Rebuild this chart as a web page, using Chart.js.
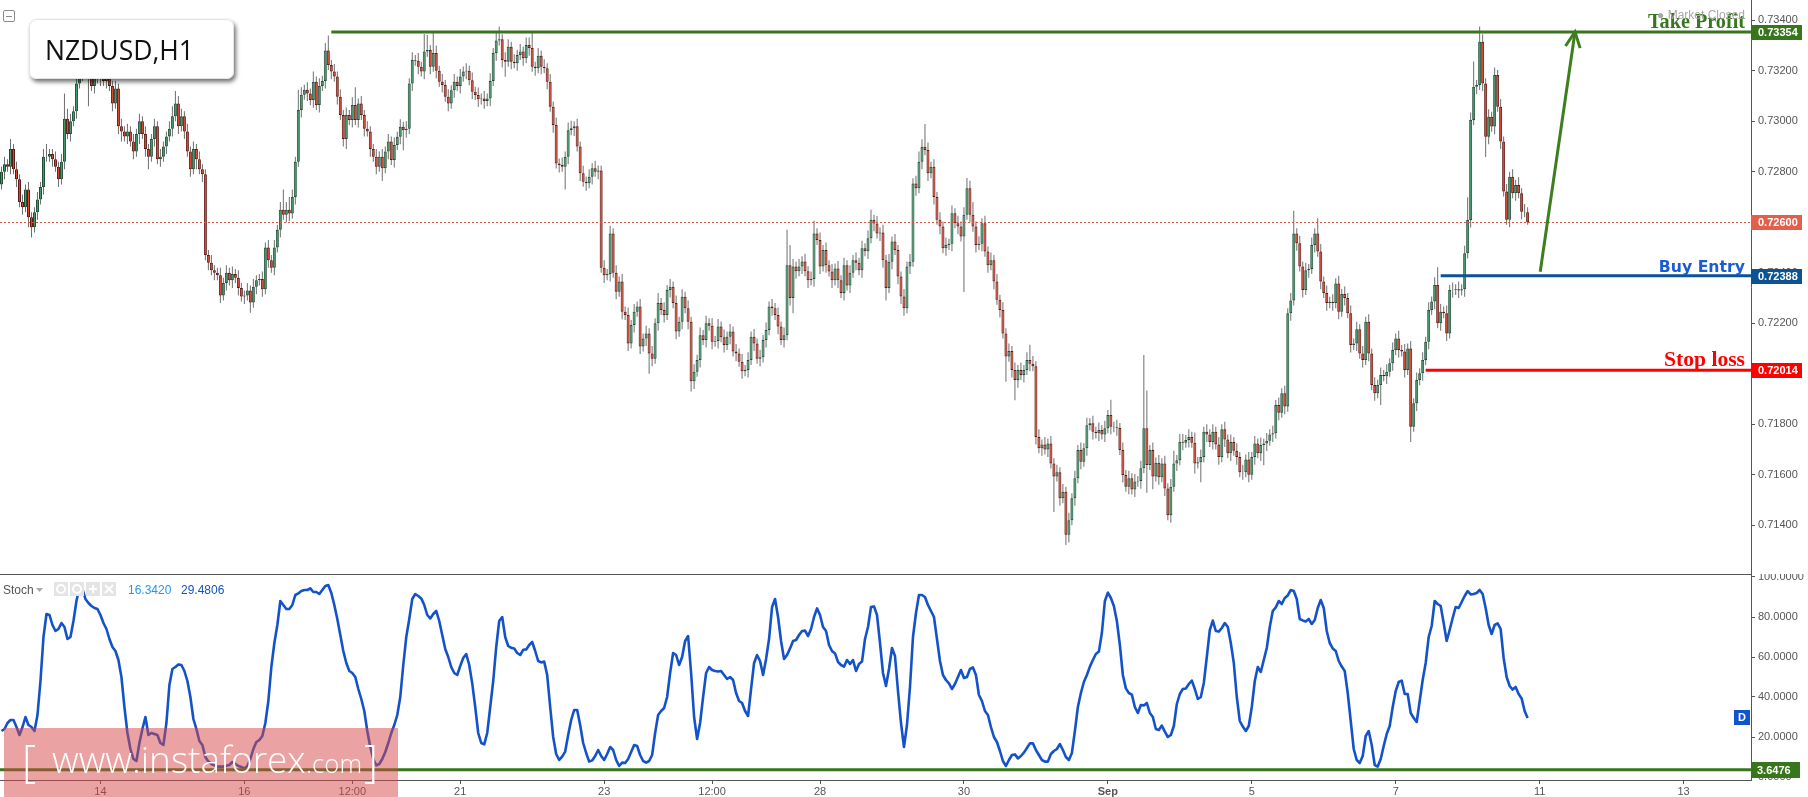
<!DOCTYPE html>
<html>
<head>
<meta charset="utf-8">
<title>NZDUSD,H1</title>
<script src="https://cdn.jsdelivr.net/npm/chart.js@4.4.1/dist/chart.umd.min.js"></script>
<style>
  html, body { margin: 0; padding: 0; background: #fff; }
  body { width: 1808px; height: 797px; position: relative; overflow: hidden; }
  #priceBox { position: absolute; left: 0; top: 0; width: 1808px; height: 574px; }
  #stochBox { position: absolute; left: 0; top: 574px; width: 1808px; height: 223px; }
</style>
</head>
<body>
<div id="priceBox"><canvas id="priceChart"></canvas></div>
<div id="stochBox"><canvas id="stochChart"></canvas></div>
<script>
// NZDUSD hourly closes, in pips above 0.71000 (one value per H1 bar)
const firstOpen = 175;
const closes = [
  180, 183, 182, 189, 181, 177, 168, 166, 173, 162,
  158, 164, 169, 174, 186, 186, 187, 185, 182, 177,
  184, 201, 195, 200, 204, 215, 219, 222, 221, 218,
  214, 218, 217, 220, 216, 218, 214, 207, 213, 198,
  196, 194, 196, 192, 188, 195, 200, 195, 189, 186,
  193, 198, 185, 186, 190, 194, 197, 202, 207, 198,
  202, 196, 188, 181, 189, 185, 181, 179, 147, 144,
  141, 140, 139, 131, 136, 140, 137, 139.5, 138, 134,
  130.6, 131, 133, 128.2, 134.5, 137, 137.5, 133.5, 150, 145,
  142, 150, 157, 165, 163, 165, 163.5, 170, 184, 204.5,
  210.5, 212.5, 211, 208.4, 215.7, 206.5, 214, 216, 228, 222.3,
  219.7, 217.7, 209.7, 202.5, 193, 202.5, 200.5, 206.5, 200.5, 207,
  202.5, 197, 196, 189, 186, 182, 186, 181.4, 188, 192,
  184.7, 190.6, 193.9, 197.8, 196.5, 197, 215, 224.3, 224, 221.6,
  219.7, 227.6, 228.2, 221.6, 227, 220, 215.7, 214.4, 209.7, 207,
  212.3, 215.7, 214, 217.7, 219.7, 220, 216.3, 211.7, 210.4, 208.7,
  209, 208, 209, 216, 227, 232, 232.5, 224.3, 223.6, 229.5,
  223.6, 223, 226.3, 227.6, 225, 230.2, 229, 221.6, 221, 226,
  221.6, 221, 215.7, 205.8, 198.5, 183.3, 182.7, 182, 186, 196.5,
  197.2, 198, 190, 179.4, 176.1, 175.5, 178, 181.4, 180, 180.5,
  142, 139, 139.5, 155.6, 140, 132.5, 136.5, 124.6, 123.3, 112,
  119.3, 124.6, 126.6, 110.8, 114, 116, 108, 106, 120, 128,
  125.3, 123.3, 133.2, 134.5, 128, 116.7, 120.6, 130.5, 126, 120.6,
  97, 100.8, 105.5, 115.3, 113.4, 120, 119, 112.7, 113, 118.7,
  114.5, 111.4, 114.7, 116.7, 108.8, 108, 104.8, 101, 101.5, 105.5,
  114.7, 112, 106, 106.5, 113.4, 117.3, 126.6, 126, 123.3, 118.7,
  113.4, 115.3, 143, 130, 142.5, 140.6, 142.5, 144.5, 140.6, 137,
  137.5, 155.6, 153, 142.5, 149, 143, 140.5, 137, 141.7, 137,
  132, 143, 135, 140, 145, 144, 141, 149.7, 148.5, 153.7,
  161, 159.5, 155.6, 156, 145, 134, 144.4, 152.4, 149, 138.5,
  130.6, 126, 142.5, 144.4, 175.4, 173.5, 184, 189.9, 188.6, 179.4,
  182, 170, 161, 158.3, 149.7, 151, 151.5, 163.6, 159.6, 158.3,
  154.4, 163, 173.5, 163, 158.3, 151, 151.5, 159.6, 148.4, 143,
  145, 136.5, 129.3, 125.3, 116, 106.8, 109, 101.5, 97.5, 101.5,
  99.5, 101.5, 105.5, 104, 103, 75, 70.5, 72, 70, 72.4,
  64.5, 59.3, 61, 50.7, 53.3, 36.2, 42, 50.7, 58.6, 69.8,
  65.2, 70.5, 79.6, 80.4, 77, 76.4, 77.7, 76, 78.4, 83.7,
  79, 78.8, 78.5, 69.8, 59.9, 55.3, 58.6, 54.2, 57.3, 57.5,
  62.6, 78.4, 63.9, 69.8, 59.3, 64.8, 59, 64.5, 54.6, 44,
  55.3, 64.5, 65.8, 73.1, 72.7, 73.8, 75, 72.7, 64.5, 65,
  67, 77, 76, 73, 77, 72, 67, 78, 74, 68.5,
  73, 69.5, 67, 61, 61, 66, 60, 67, 72.4, 68.5,
  71.8, 72.4, 73.5, 76, 76.4, 87.6, 84.6, 92.3, 87, 124,
  129, 155.6, 151.7, 142.5, 133.2, 141, 141.5, 151, 155.6, 148.4,
  136.5, 132, 128, 128.5, 128, 135.8, 124.6, 131.6, 130, 124,
  111.4, 112, 117.6, 108, 105.5, 120.6, 108, 95.6, 92.3, 95.6,
  99.5, 99, 100.8, 104.2, 109.4, 114, 109.4, 108.8, 101.5, 110,
  79, 88.3, 97.5, 100.2, 105.5, 112.7, 125.3, 128.6, 135.2, 120,
  124.6, 124, 116, 133.2, 133.2, 133.5, 133, 133.5, 147.7, 160.9,
  200.5, 213.7, 214.4, 231.5, 215, 193.9, 201.8, 197.9, 218.3, 205.8,
  192, 172.2, 161, 178, 171.5, 174.8, 171.5, 164.2, 164, 160
];
// wick length above / below the body, in pips
const wickUp = [
  2, 3, 2, 4, 2, 3, 2, 3, 2, 3,
  2, 2, 3, 2, 3, 5, 2, 2, 3, 2,
  3, 10, 4, 3, 2, 3, 2, 3, 2, 3,
  2, 3, 2, 2, 3, 2, 3, 2, 3, 2,
  3, 2, 3, 2, 3, 2, 3, 2, 3, 2,
  2, 3, 2, 3, 2, 2, 3, 4, 5, 3,
  3, 2, 3, 2, 3, 2, 3, 2, 2, 2,
  3, 2, 2, 3, 2, 3, 2, 3, 2, 3,
  2, 2, 3, 2, 3, 2, 2, 3, 2, 3,
  2, 3, 2, 3, 8, 3, 5, 3, 2, 8,
  3, 2, 3, 2, 4, 2, 3, 2, 3, 6,
  2, 3, 2, 3, 2, 3, 2, 3, 7, 2,
  3, 2, 3, 2, 2, 3, 2, 3, 2, 3,
  2, 3, 2, 3, 2, 3, 2, 3, 2, 3,
  2, 7, 6, 2, 8, 3, 2, 3, 2, 3,
  2, 3, 2, 3, 2, 3, 2, 3, 2, 3,
  2, 3, 2, 3, 2, 3, 5, 2, 3, 3,
  2, 3, 2, 3, 2, 3, 3, 6, 2, 3,
  2, 3, 2, 3, 2, 3, 2, 3, 2, 3,
  3, 2, 3, 2, 3, 2, 3, 2, 3, 2,
  2, 3, 2, 3, 2, 3, 2, 3, 2, 3,
  2, 3, 2, 3, 2, 3, 2, 3, 2, 4,
  2, 3, 2, 3, 2, 3, 2, 3, 2, 3,
  2, 3, 2, 3, 2, 3, 2, 3, 2, 3,
  2, 3, 2, 3, 2, 3, 2, 3, 2, 3,
  2, 3, 2, 3, 2, 3, 2, 3, 2, 3,
  2, 3, 14, 8, 3, 2, 3, 2, 3, 2,
  3, 5, 2, 3, 2, 3, 2, 3, 2, 3,
  2, 3, 2, 3, 2, 3, 2, 3, 2, 3,
  4, 2, 3, 2, 3, 2, 3, 2, 3, 2,
  2, 3, 2, 3, 2, 3, 4, 3, 9, 3,
  2, 3, 2, 3, 2, 3, 2, 3, 2, 3,
  2, 3, 4, 3, 5, 2, 3, 2, 3, 2,
  3, 2, 3, 2, 3, 2, 3, 2, 3, 2,
  3, 2, 3, 6, 3, 2, 3, 2, 3, 2,
  3, 2, 3, 2, 3, 2, 3, 2, 3, 2,
  3, 2, 3, 2, 3, 2, 3, 2, 3, 2,
  6, 2, 3, 2, 3, 2, 3, 2, 3, 2,
  3, 29, 15, 2, 3, 2, 3, 2, 3, 2,
  3, 5, 2, 3, 3, 2, 3, 2, 4, 2,
  3, 2, 3, 2, 3, 2, 3, 2, 3, 2,
  3, 2, 3, 2, 3, 2, 3, 2, 3, 2,
  3, 2, 3, 2, 3, 2, 3, 2, 3, 2,
  3, 9, 2, 3, 2, 3, 2, 3, 2, 6,
  3, 2, 3, 2, 3, 2, 3, 2, 3, 2,
  3, 2, 3, 2, 3, 2, 3, 2, 3, 2,
  3, 2, 3, 2, 3, 2, 3, 2, 3, 2,
  3, 2, 3, 2, 3, 2, 3, 2, 3, 7,
  3, 2, 3, 2, 3, 2, 3, 2, 3, 9,
  3, 10, 2, 6, 3, 2, 3, 2, 3, 2,
  3, 2, 3, 2, 3, 2, 3, 2, 3, 2
];
const wickDown = [
  2, 3, 2, 3, 2, 3, 2, 3, 2, 4,
  4, 2, 3, 2, 3, 2, 2, 3, 2, 3,
  2, 3, 2, 3, 2, 3, 2, 3, 2, 12,
  2, 3, 2, 3, 2, 3, 2, 3, 2, 3,
  4, 2, 3, 2, 3, 2, 4, 2, 3, 5,
  2, 3, 2, 3, 2, 3, 2, 3, 2, 3,
  2, 3, 2, 3, 2, 4, 2, 3, 2, 3,
  2, 3, 2, 3, 2, 3, 2, 3, 2, 3,
  2, 3, 2, 4, 2, 3, 2, 3, 2, 3,
  2, 3, 2, 3, 2, 3, 3, 2, 3, 2,
  3, 2, 3, 2, 3, 2, 3, 2, 3, 2,
  3, 2, 3, 2, 3, 4, 2, 3, 2, 3,
  2, 3, 2, 3, 2, 3, 2, 5, 2, 3,
  2, 3, 2, 3, 8, 3, 2, 3, 2, 3,
  2, 3, 2, 3, 2, 3, 2, 3, 2, 3,
  2, 3, 2, 3, 2, 3, 2, 3, 2, 3,
  2, 3, 2, 3, 2, 3, 2, 3, 6, 2,
  3, 2, 3, 2, 3, 2, 3, 2, 3, 2,
  3, 2, 3, 2, 3, 2, 3, 2, 9, 3,
  2, 3, 2, 3, 2, 3, 2, 3, 2, 3,
  2, 3, 2, 3, 2, 3, 2, 3, 2, 3,
  2, 3, 2, 3, 2, 3, 8, 3, 2, 3,
  2, 3, 2, 3, 2, 3, 2, 3, 2, 3,
  4, 3, 2, 3, 2, 3, 2, 3, 2, 3,
  2, 3, 2, 3, 2, 3, 2, 3, 2, 3,
  2, 3, 2, 3, 2, 3, 2, 3, 2, 3,
  2, 3, 2, 3, 6, 3, 2, 3, 2, 3,
  2, 3, 2, 3, 2, 3, 2, 3, 2, 3,
  2, 3, 2, 3, 2, 3, 2, 3, 2, 3,
  2, 3, 2, 3, 3, 5, 2, 3, 2, 3,
  3, 3, 2, 3, 2, 3, 2, 3, 2, 3,
  2, 3, 2, 3, 2, 3, 2, 3, 2, 3,
  2, 22, 2, 3, 2, 3, 2, 3, 2, 3,
  2, 3, 2, 3, 2, 10, 2, 3, 8, 3,
  2, 3, 2, 3, 2, 3, 2, 3, 2, 3,
  2, 14, 2, 3, 2, 4, 3, 2, 3, 2,
  3, 2, 3, 2, 3, 2, 3, 2, 3, 2,
  3, 2, 3, 2, 3, 2, 3, 2, 3, 2,
  3, 2, 11, 2, 5, 2, 3, 2, 3, 2,
  3, 2, 3, 2, 3, 2, 3, 2, 4, 2,
  8, 2, 3, 2, 3, 2, 3, 2, 3, 2,
  3, 2, 3, 2, 3, 2, 3, 2, 3, 2,
  3, 8, 3, 2, 3, 2, 3, 2, 3, 2,
  3, 2, 3, 2, 3, 2, 3, 2, 3, 2,
  3, 2, 3, 2, 3, 2, 3, 2, 3, 2,
  3, 2, 3, 2, 3, 2, 3, 2, 3, 2,
  8, 2, 3, 2, 3, 2, 3, 2, 3, 2,
  6, 2, 3, 2, 3, 2, 3, 2, 3, 2,
  3, 2, 3, 2, 3, 2, 3, 2, 3, 2,
  3, 2, 3, 2, 3, 8, 3, 2, 3, 2,
  3, 2, 2, 3, 2, 3, 2, 3, 2, 1
];
// Stochastic %D, one value per bar
const stochD = [
  23, 24, 27, 28.5, 28.5, 25, 21, 25, 30, 26,
  25, 23, 31, 48, 70, 81.5, 81, 76, 73, 74,
  77, 75, 69, 70, 78, 88, 95, 94, 89, 87,
  85.5, 84.5, 84, 81, 77, 74, 69, 65, 63, 58.5,
  50, 35, 22, 14, 9, 8, 17, 24, 30, 21,
  22, 21.5, 21, 17, 16, 27, 46, 54, 55, 56.3,
  56, 53, 48, 40, 29, 24, 18, 16, 10, 7.7,
  6.5, 5.8, 5.2, 5.2, 5.2, 5.6, 6, 7.5, 6.5, 5.5,
  5, 4.3, 5.5, 9, 14, 17.5, 18.5, 20.5, 27, 38,
  55, 67, 76, 88, 86, 84, 84, 86, 91, 91.8,
  93, 93.5, 93.5, 94.3, 92.5, 92.5, 91.5, 93.5, 95.5, 96,
  92, 86, 79, 71, 63, 57, 53, 52, 50, 44,
  39, 33, 23, 15, 9, 5.8, 6.5, 9, 12.5, 17,
  22, 26, 31, 40, 56, 70, 79, 89, 91.5, 90.5,
  89.3, 86, 81, 79.3, 81.5, 83, 78, 71, 64, 60,
  55, 52, 51, 55.5, 59.5, 61.5, 56, 46.8, 35, 22,
  17, 16.3, 22, 35, 48, 65, 78, 80, 70, 65.5,
  64.6, 64.3, 62, 61, 63.6, 63.8, 66, 67.5, 63, 58,
  57.3, 57.7, 51, 35, 20, 11.5, 8.5, 10.2, 12.7, 21,
  28.5, 33.5, 33.5, 26, 17, 12, 7.7, 8.3, 10.5, 13.5,
  10.5, 8.5, 11.5, 15, 13.5, 8.5, 5.5, 7.2, 7, 9,
  12.5, 16, 15.5, 11, 8, 7.2, 8, 11, 22, 31,
  33, 34.5, 40, 52, 62, 61, 56, 60, 68, 70.5,
  52, 30, 19, 27, 40, 52, 55, 53.5, 53, 52.7,
  53, 51, 49, 50, 48.5, 42, 38, 37, 33, 30.5,
  44, 57, 61, 58, 51, 59, 69, 85, 89, 80,
  68, 59, 61, 64.3, 68, 68.5, 71, 73, 73.2, 70.5,
  74, 80, 84.3, 81, 75, 73, 66, 63, 61.8, 57.5,
  56, 55.2, 58.5, 56.5, 58.5, 53, 56.5, 57.7, 69, 75,
  85, 85.3, 81, 67, 52, 45.5, 54, 64.5, 60.5, 43,
  27, 15, 26, 45, 70, 82, 91, 91, 90, 86,
  83, 80, 69, 58, 51, 48.5, 46.8, 44, 46.5, 50,
  53.5, 49.5, 50, 54, 54.8, 51, 41, 38, 33, 31,
  25, 20, 17.5, 13, 8, 5.5, 8.5, 11, 11.3, 9.3,
  10.5, 12.2, 14.5, 16.8, 16.8, 13.5, 11, 8.5, 7.7, 7.7,
  11.5, 13, 14, 16.5, 13.5, 10, 8.5, 12, 23, 35,
  42, 47.5, 51, 55.2, 58.5, 61.5, 62.7, 72, 88, 92.2,
  89.5, 85.5, 78, 66, 51, 44.3, 42, 41.2, 35, 32,
  36, 35.8, 37, 32, 30, 24, 23.5, 25.7, 22.7, 20,
  21, 25.5, 36.5, 41.5, 44, 44.3, 46.5, 48.2, 44, 39,
  40, 47, 60, 73.5, 78.2, 73, 72.7, 74.5, 77, 75,
  67, 57, 40, 28, 25.2, 23, 25.5, 35, 48, 55,
  52.5, 58.5, 64.5, 75, 83, 84.8, 88, 86.5, 89.5, 90.8,
  93.5, 93, 89, 79, 78.3, 77.8, 79, 76.5, 78.5, 84.5,
  88.5, 84.5, 73, 67, 64.3, 63, 58, 55.2, 53, 42,
  28, 14, 8.5, 7, 10.5, 20.5, 23, 16, 6, 5.2,
  9, 15.5, 21.5, 25.5, 35, 43, 47.5, 48.2, 41.5, 41.5,
  32, 29.5, 27.5, 38, 48.5, 57, 70, 75.5, 88, 86.5,
  85.5, 77, 68, 73.5, 79.5, 85, 84.5, 87.5, 90.5, 93,
  91.3, 91.5, 92, 93.5, 91.5, 84.5, 76, 71.5, 76, 76.8,
  74, 59.5, 50, 45.5, 43.7, 45, 41.5, 39.3, 33, 29.4806
];
const stochK = 16.3420;
const stochLevel = 3.6476;

// axes
const priceTicks = [0.714, 0.716, 0.718, 0.720, 0.722, 0.724, 0.726, 0.728, 0.730, 0.732, 0.734];
const stochTicks = [0, 20, 40, 60, 80, 100];
const axisTickTimes = ['2017-08-14T00', '2017-08-16T00', '2017-08-17T12', '2017-08-21T00', '2017-08-23T00',
  '2017-08-24T12', '2017-08-28T00', '2017-08-30T00', '2017-09-01T00', '2017-09-05T00',
  '2017-09-07T00', '2017-09-11T00', '2017-09-13T00'];
const axisTickText = ['14', '16', '12:00', '21', '23', '12:00', '28', '30', 'Sep', '5', '7', '11', '13'];

// trade plan
const levelNames = ['Take Profit', 'Buy Entry', 'Stop loss'];
const levelPrices = [0.73354, 0.72388, 0.72014];
const levelStartBars = [110, 480, 475];
const arrowFrom = { bar: 513.2, price: 0.72404 };
const arrowTo = { bar: 524.8, price: 0.73354 };

const priceMin = 0.71207;
const priceMax = 0.734804;

// hourly time axis, forex week (Fri 21:00 -> Sun 21:00 gap), incl. empty space on the right
const slotCount = 584;
const hour = 3600 * 1000;
const barTimes = [];
for (let t = Date.UTC(2017, 7, 10, 15); barTimes.length < slotCount;) {
  barTimes.push(t);
  t += hour;
  const d = new Date(t);
  if (d.getUTCDay() === 5 && d.getUTCHours() >= 21) t += 48 * hour;
}
const labels = barTimes.map(t => new Date(t).toISOString().slice(0, 13));

const toPrice = v => 0.71 + v / 10000;
const opens = closes.map((c, i) => i === 0 ? firstOpen : closes[i - 1]);
const bodies = closes.map((c, i) => [toPrice(opens[i]), toPrice(c)]);
const wicks = closes.map((c, i) => [
  toPrice(Math.min(opens[i], c) - wickDown[i]),
  toPrice(Math.max(opens[i], c) + wickUp[i])
]);
const rising = closes.map((c, i) => c >= opens[i]);
const bodyFill = rising.map(r => r ? '#3f9b6c' : '#e4432e');
const bodyEdge = rising.map(r => r ? '#1d4f36' : '#5e1710');
const lastPrice = toPrice(closes[closes.length - 1]);

const sans = "Arial, 'Liberation Sans', sans-serif";
const axisGrey = '#555';

function fitFont(ctx, text, weight, family, width) {
  ctx.font = weight + ' 20px ' + family;
  const size = 20 * width / ctx.measureText(text).width;
  return weight + ' ' + size.toFixed(1) + 'px ' + family;
}

function axisBox(ctx, a, yPix, text, color) {
  const top = Math.round(yPix) - 7;
  ctx.fillStyle = color;
  ctx.fillRect(a.right, top, 51, 15);
  ctx.fillStyle = '#fff';
  ctx.font = 'bold 11px ' + sans;
  ctx.textAlign = 'left';
  ctx.textBaseline = 'middle';
  ctx.fillText(text, a.right + 7, top + 8);
}

const priceOverlay = {
  id: 'priceOverlay',
  afterDatasetsDraw(chart) {
    const { ctx, chartArea: a, scales: { x, y } } = chart;
    ctx.save();
    // last price, dotted
    const py = Math.round(y.getPixelForValue(lastPrice)) + 0.5;
    ctx.strokeStyle = '#e0533c';
    ctx.lineWidth = 1;
    ctx.setLineDash([2, 2]);
    ctx.beginPath(); ctx.moveTo(a.left, py); ctx.lineTo(a.right, py); ctx.stroke();
    ctx.setLineDash([]);

    // trade levels
    const lineColors = ['#38761d', '#0b5394', '#ff0000'];
    const textColors = ['#38761d', '#1a5cd6', '#ff0000'];
    const fonts = [
      ['bold', "'Liberation Serif', 'DejaVu Serif', serif", 97],
      ['bold', "'DejaVu Sans', Arial, sans-serif", 86],
      ['bold', "'Liberation Serif', 'DejaVu Serif', serif", 81]
    ];
    levelPrices.forEach((p, i) => {
      const ly = y.getPixelForValue(p);
      ctx.strokeStyle = lineColors[i];
      ctx.lineWidth = 3;
      ctx.beginPath();
      ctx.moveTo(x.getPixelForValue(levelStartBars[i]), ly);
      ctx.lineTo(a.right, ly);
      ctx.stroke();
      ctx.font = fitFont(ctx, levelNames[i], fonts[i][0], fonts[i][1], fonts[i][2]);
      ctx.fillStyle = textColors[i];
      ctx.textAlign = 'right';
      ctx.textBaseline = 'alphabetic';
      ctx.fillText(levelNames[i], a.right - 6, ly - 4);
    });

    // arrow to the target
    const x0 = x.getPixelForValue(arrowFrom.bar), y0 = y.getPixelForValue(arrowFrom.price);
    const x1 = x.getPixelForValue(arrowTo.bar), y1 = y.getPixelForValue(arrowTo.price);
    const ang = Math.atan2(y1 - y0, x1 - x0);
    ctx.strokeStyle = '#3d7f1f';
    ctx.lineWidth = 3;
    ctx.lineCap = 'butt';
    ctx.beginPath(); ctx.moveTo(x0, y0); ctx.lineTo(x1, y1); ctx.stroke();
    ctx.beginPath();
    ctx.moveTo(x1 + 17 * Math.cos(ang + Math.PI - 0.45), y1 + 17 * Math.sin(ang + Math.PI - 0.45));
    ctx.lineTo(x1, y1);
    ctx.lineTo(x1 + 17 * Math.cos(ang + Math.PI + 0.45), y1 + 17 * Math.sin(ang + Math.PI + 0.45));
    ctx.stroke();

    // market closed note
    ctx.fillStyle = '#a8a8a8';
    ctx.font = '12px ' + sans;
    ctx.textAlign = 'right';
    ctx.fillText('\u25CF Market Closed', a.right - 6, 19);

    // symbol title box
    ctx.save();
    ctx.shadowColor = 'rgba(0,0,0,0.55)';
    ctx.shadowBlur = 4;
    ctx.shadowOffsetX = 2;
    ctx.shadowOffsetY = 3;
    ctx.fillStyle = '#fff';
    ctx.beginPath();
    ctx.roundRect(29, 19, 205, 60, 7);
    ctx.fill();
    ctx.restore();
    ctx.strokeStyle = '#e2e2e2';
    ctx.lineWidth = 1;
    ctx.beginPath(); ctx.roundRect(29.5, 19.5, 204, 59, 7); ctx.stroke();
    ctx.fillStyle = '#111';
    ctx.font = fitFont(ctx, 'NZDUSD,H1', 'normal', "'Open Sans', 'Noto Sans', sans-serif", 149);
    ctx.textAlign = 'left';
    ctx.fillText('NZDUSD,H1', 45, 60);

    // collapse icon
    ctx.strokeStyle = '#8a8a8a';
    ctx.beginPath(); ctx.roundRect(3.5, 10.5, 11, 11, 1.5); ctx.stroke();
    ctx.beginPath(); ctx.moveTo(6, 16.5); ctx.lineTo(12, 16.5); ctx.stroke();
    ctx.restore();
  },
  afterDraw(chart) {
    const { ctx, chartArea: a, scales: { y } } = chart;
    ctx.save();
    const boxColors = ['#38761d', '#0b5394', '#ff0000'];
    axisBox(ctx, a, y.getPixelForValue(lastPrice), lastPrice.toFixed(5), '#e35f4c');
    levelPrices.forEach((p, i) => axisBox(ctx, a, y.getPixelForValue(p), p.toFixed(5), boxColors[i]));
    ctx.restore();
  }
};

const stochOverlay = {
  id: 'stochOverlay',
  afterDatasetsDraw(chart) {
    const { ctx, chartArea: a, scales: { y } } = chart;
    const ly = y.getPixelForValue(stochLevel);
    ctx.save();
    ctx.strokeStyle = '#38761d';
    ctx.lineWidth = 3;
    ctx.beginPath(); ctx.moveTo(a.left, ly); ctx.lineTo(a.right, ly); ctx.stroke();
    ctx.restore();
  },
  afterDraw(chart) {
    const { ctx, chartArea: a, scales: { y } } = chart;
    ctx.save();
    // pane separator
    ctx.fillStyle = axisGrey;
    ctx.fillRect(0, 0, a.right, 1);

    // header
    ctx.font = '12px ' + sans;
    ctx.textBaseline = 'alphabetic';
    ctx.textAlign = 'left';
    ctx.fillStyle = '#555';
    ctx.fillText('Stoch', 3, 20);
    ctx.fillStyle = '#aaa';
    ctx.beginPath(); ctx.moveTo(36, 14); ctx.lineTo(43, 14); ctx.lineTo(39.5, 18); ctx.fill();
    for (let i = 0; i < 4; i++) {
      const ix = 54 + i * 16;
      ctx.fillStyle = '#e4e4e4';
      ctx.fillRect(ix, 8, 14, 14);
      ctx.strokeStyle = '#fff';
      ctx.fillStyle = '#fff';
      ctx.lineWidth = 2;
      ctx.beginPath();
      if (i < 2) {
        ctx.arc(ix + 7, 15, 4, 0, Math.PI * 2); ctx.stroke();
      } else if (i === 2) {
        ctx.moveTo(ix + 3, 15); ctx.lineTo(ix + 11, 15); ctx.moveTo(ix + 7, 11); ctx.lineTo(ix + 7, 19); ctx.stroke();
      } else {
        ctx.moveTo(ix + 3, 11); ctx.lineTo(ix + 11, 19); ctx.moveTo(ix + 11, 11); ctx.lineTo(ix + 3, 19); ctx.stroke();
      }
    }
    ctx.font = '12px ' + sans;
    ctx.fillStyle = '#2196f3';
    ctx.fillText(stochK.toFixed(4), 128, 20);
    ctx.fillStyle = '#1452c4';
    ctx.fillText(stochD[stochD.length - 1].toFixed(4), 181, 20);

    // level value box
    const ly = y.getPixelForValue(stochLevel);
    const top = Math.round(ly) - 8;
    ctx.fillStyle = '#38761d';
    ctx.fillRect(a.right, top, 49, 16);
    ctx.fillStyle = '#fff';
    ctx.font = 'bold 11px ' + sans;
    ctx.textBaseline = 'middle';
    ctx.fillText(stochLevel.toFixed(4), a.right + 6, top + 8.5);

    // series marker
    const dy = Math.round(y.getPixelForValue(stochD[stochD.length - 1]));
    ctx.fillStyle = '#1155cc';
    ctx.fillRect(a.right - 17, dy - 8, 16, 15);
    ctx.fillStyle = '#fff';
    ctx.textAlign = 'center';
    ctx.fillText('D', a.right - 9, dy);

    // watermark
    ctx.fillStyle = 'rgba(214, 70, 70, 0.5)';
    ctx.fillRect(4, 154, 394, 69);
    ctx.fillStyle = '#fff';
    ctx.textAlign = 'left';
    ctx.textBaseline = 'alphabetic';
    const wm = "'Open Sans', 'Noto Sans', sans-serif";
    ctx.font = '300 44px ' + wm;
    ctx.fillText('[', 22, 203);
    ctx.fillText(']', 364, 203);
    ctx.font = fitFont(ctx, 'www.instaforex', '300', wm, 254);
    ctx.fillText('www.instaforex', 52, 199);
    ctx.font = fitFont(ctx, '.com', '300', wm, 56);
    ctx.fillText('.com', 306, 199);
    ctx.restore();
  }
};

const fixedRightAxis = scale => {
  scale.width = 57;
  scale.paddingTop = 0;
  scale.paddingBottom = 0;
};

new Chart(document.getElementById('priceChart'), {
  type: 'bar',
  data: {
    labels: labels,
    datasets: [
      {
        data: bodies,
        backgroundColor: bodyFill,
        borderColor: bodyEdge,
        borderWidth: 1,
        borderSkipped: false,
        barThickness: 3,
        grouped: false,
        inflateAmount: 0,
        order: 1
      },
      {
        data: wicks,
        backgroundColor: '#6e6e6e',
        borderWidth: 0,
        barThickness: 1,
        grouped: false,
        inflateAmount: 0,
        order: 2
      }
    ]
  },
  options: {
    responsive: true,
    maintainAspectRatio: false,
    animation: false,
    devicePixelRatio: 1,
    layout: { padding: 0 },
    plugins: { legend: { display: false }, tooltip: { enabled: false } },
    scales: {
      x: { display: false, offset: true },
      y: {
        position: 'right',
        min: priceMin,
        max: priceMax,
        afterBuildTicks: axis => { axis.ticks = priceTicks.map(v => ({ value: v })); },
        afterFit: fixedRightAxis,
        ticks: { callback: v => v.toFixed(5), color: axisGrey, font: { family: sans, size: 11 }, padding: 3 },
        grid: { drawOnChartArea: false, tickLength: 4, color: axisGrey },
        border: { display: true, color: axisGrey }
      }
    }
  },
  plugins: [priceOverlay]
});

new Chart(document.getElementById('stochChart'), {
  type: 'line',
  data: {
    labels: labels,
    datasets: [{
      data: stochD,
      borderColor: '#1452c9',
      borderWidth: 2.6,
      pointRadius: 0,
      tension: 0,
      fill: false,
      borderJoinStyle: 'round'
    }]
  },
  options: {
    responsive: true,
    maintainAspectRatio: false,
    animation: false,
    devicePixelRatio: 1,
    layout: { padding: 0 },
    plugins: { legend: { display: false }, tooltip: { enabled: false } },
    scales: {
      x: {
        offset: true,
        afterBuildTicks: axis => {
          axis.ticks = axis.ticks.filter(t => axisTickTimes.includes(labels[t.value]));
        },
        afterFit: scale => { scale.height = 17; scale.paddingLeft = 0; scale.paddingRight = 0; },
        ticks: {
          autoSkip: false,
          maxRotation: 0,
          padding: 1,
          color: axisGrey,
          callback: v => axisTickText[axisTickTimes.indexOf(labels[v])],
          font: c => ({
            family: sans,
            size: 11,
            weight: c.tick && axisTickText[axisTickTimes.indexOf(labels[c.tick.value])] === 'Sep' ? 'bold' : 'normal'
          })
        },
        grid: { drawOnChartArea: false, offset: false, tickLength: 4, color: axisGrey },
        border: { display: true, color: axisGrey }
      },
      y: {
        position: 'right',
        min: -1.5,
        max: 101.5,
        afterBuildTicks: axis => { axis.ticks = stochTicks.map(v => ({ value: v })); },
        afterFit: fixedRightAxis,
        ticks: { callback: v => v.toFixed(4), color: axisGrey, font: { family: sans, size: 11 }, padding: 3 },
        grid: { drawOnChartArea: false, tickLength: 4, color: axisGrey },
        border: { display: true, color: axisGrey }
      }
    }
  },
  plugins: [stochOverlay]
});
</script>
</body>
</html>
